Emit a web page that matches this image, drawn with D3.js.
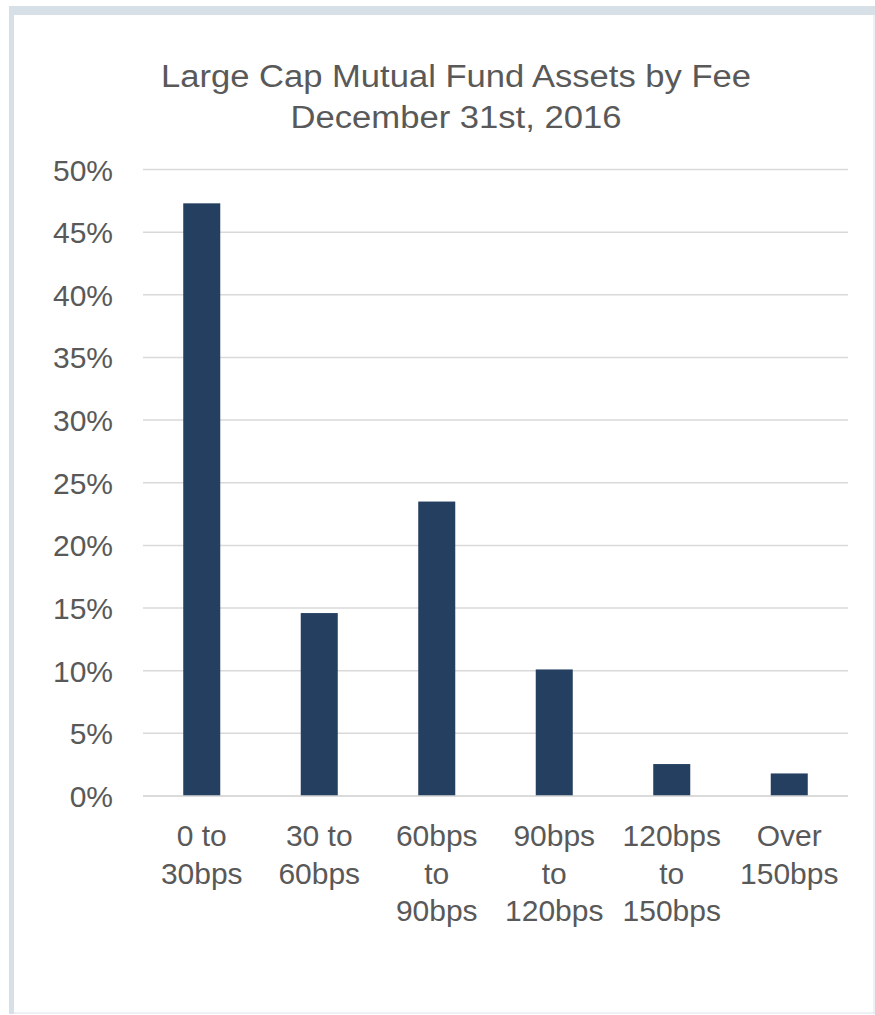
<!DOCTYPE html>
<html>
<head>
<meta charset="utf-8">
<script src="https://cdn.jsdelivr.net/npm/d3@7"></script>
<style>
  html, body { margin: 0; padding: 0; background: #ffffff; }
  svg { display: block; }
  text { font-family: "Liberation Sans", Arial, sans-serif; fill: #595959; }
</style>
</head>
<body>
<svg id="chart" width="875" height="1015"></svg>
<script>
// Share of large cap mutual fund assets in each expense-ratio bucket
const categories = [
  ["0 to", "30bps"],
  ["30 to", "60bps"],
  ["60bps", "to", "90bps"],
  ["90bps", "to", "120bps"],
  ["120bps", "to", "150bps"],
  ["Over", "150bps"]
];
const shares = [47.3, 14.6, 23.5, 10.1, 2.55, 1.8];
const yTicks = [0, 5, 10, 15, 20, 25, 30, 35, 40, 45, 50];
const titleLines = ["Large Cap Mutual Fund Assets by Fee", "December 31st, 2016"];
const titleWidths = [590, 331];

const svg = d3.select("#chart");
const W = 875, H = 1015;

// panel frame: heavy top/left edge, hairline right/bottom edge
svg.append("rect").attr("x", 9).attr("y", 6).attr("width", W - 9).attr("height", 1008)
  .attr("fill", "#ffffff").attr("stroke", "none");
svg.append("rect").attr("x", 9).attr("y", 6).attr("width", W - 9).attr("height", 9).attr("fill", "#d8e0e7");
svg.append("rect").attr("x", 9).attr("y", 6).attr("width", 5).attr("height", 1008).attr("fill", "#d8e0e7");
svg.append("rect").attr("x", 873.5).attr("y", 15).attr("width", 1).attr("height", 999).attr("fill", "#dbe3ea");
svg.append("rect").attr("x", 14).attr("y", 1012.5).attr("width", W - 14).attr("height", 1).attr("fill", "#dbe3ea");

const plot = { left: 143, right: 848, top: 169.5, bottom: 796 };

const x = d3.scaleBand()
  .domain(d3.range(categories.length))
  .range([plot.left, plot.right])
  .paddingInner(0.685)
  .paddingOuter(0.3425);

const y = d3.scaleLinear().domain([0, 50]).range([plot.bottom, plot.top]);

// horizontal gridlines
svg.append("g").selectAll("line").data(yTicks).join("line")
  .attr("x1", plot.left).attr("x2", plot.right)
  .attr("y1", d => y(d)).attr("y2", d => y(d))
  .attr("stroke", "#d9d9d9").attr("stroke-width", 1.5);

// y axis labels
const yAxis = d3.axisLeft(y).tickValues(yTicks).tickFormat(d => d + "%").tickSize(0).tickPadding(30);
const gy = svg.append("g").attr("transform", `translate(${plot.left},0)`).call(yAxis);
gy.select(".domain").remove();
gy.selectAll("text")
  .attr("font-size", 30)
  .attr("font-family", "'Liberation Sans', Arial, sans-serif")
  .attr("fill", "#595959")
  .attr("dy", "0.35em");

// bars
svg.append("g").selectAll("rect").data(shares).join("rect")
  .attr("x", (d, i) => x(i))
  .attr("width", x.bandwidth())
  .attr("y", d => y(d))
  .attr("height", d => y(0) - y(d))
  .attr("fill", "#243f60");

// baseline
svg.append("line")
  .attr("x1", plot.left).attr("x2", plot.right)
  .attr("y1", y(0)).attr("y2", y(0))
  .attr("stroke", "#d9d9d9").attr("stroke-width", 1.5);

// category labels, wrapped over several lines
const xl = svg.append("g").selectAll("text").data(categories).join("text")
  .attr("text-anchor", "middle")
  .attr("font-size", 30)
  .attr("x", (d, i) => x(i) + x.bandwidth() / 2)
  .attr("y", 846);
xl.selectAll("tspan").data(d => d).join("tspan")
  .attr("x", function () { return d3.select(this.parentNode).attr("x"); })
  .attr("dy", (d, i) => i === 0 ? 0 : 37.5)
  .text(d => d);

// title, set slightly wide
svg.append("g").selectAll("text").data(titleLines).join("text")
  .attr("text-anchor", "middle")
  .attr("font-size", 31)
  .attr("x", 456)
  .attr("y", (d, i) => 87 + i * 41)
  .attr("textLength", (d, i) => titleWidths[i])
  .attr("lengthAdjust", "spacingAndGlyphs")
  .text(d => d);
</script>
</body>
</html>
